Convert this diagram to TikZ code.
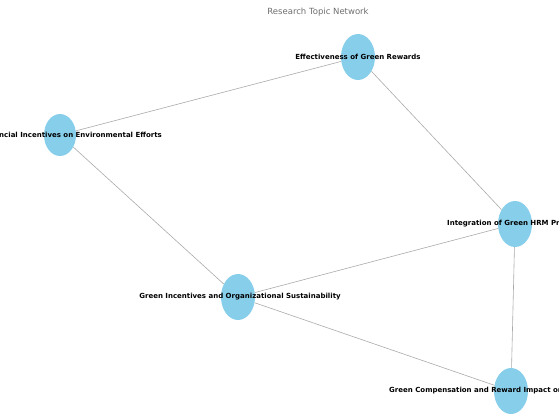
\documentclass[tikz,border=0pt]{standalone}
\usepackage{fontspec}
\setmainfont{DejaVu Sans}
\usetikzlibrary{shapes.geometric}
\definecolor{nodeblue}{RGB}{135,206,235}
\definecolor{edgegray}{RGB}{170,170,170}
\definecolor{titlegray}{RGB}{110,110,110}
\begin{document}
\begin{tikzpicture}[x=1pt,y=-1pt,
  topic/.style={ellipse, fill=nodeblue, minimum width=34pt, minimum height=46pt, inner sep=0pt},
  lbl/.style={font=\fontsize{7}{8}\selectfont\bfseries, text=black, inner sep=0pt},
  link/.style={draw=edgegray, line width=0.6pt}]
\useasboundingbox (0,0) rectangle (559,415);
\clip (0,0) rectangle (559,415);
\node[font=\fontsize{8.5}{10}\selectfont, text=titlegray] (title) at (318,12) {Research Topic Network};
\node[topic] (eff) at (358,57) {};
\node[topic, minimum width=32pt, minimum height=42pt] (fin) at (60,135) {};
\node[topic] (int) at (515,224) {};
\node[topic] (ginc) at (238,297) {};
\node[topic] (gcomp) at (511,391) {};
\draw[link] (eff) -- (fin);
\draw[link] (eff) -- (int);
\draw[link] (fin) -- (ginc);
\draw[link] (ginc) -- (int);
\draw[link] (ginc) -- (gcomp);
\draw[link] (int) -- (gcomp);
\node[lbl] (leff) at (eff) {Effectiveness of Green Rewards};
\node[lbl, anchor=east] (lfin) at ([xshift=102pt]fin.center) {Financial Incentives on Environmental Efforts};
\node[lbl, anchor=west] (lint) at ([xshift=-68pt]int.center) {Integration of Green HRM Practices};
\node[lbl] (lginc) at ([xshift=2pt]ginc.center) {Green Incentives and Organizational Sustainability};
\node[lbl, anchor=west] (lgcomp) at ([xshift=-122pt]gcomp.center) {Green Compensation and Reward Impact on Sustainability};
\end{tikzpicture}
\end{document}
